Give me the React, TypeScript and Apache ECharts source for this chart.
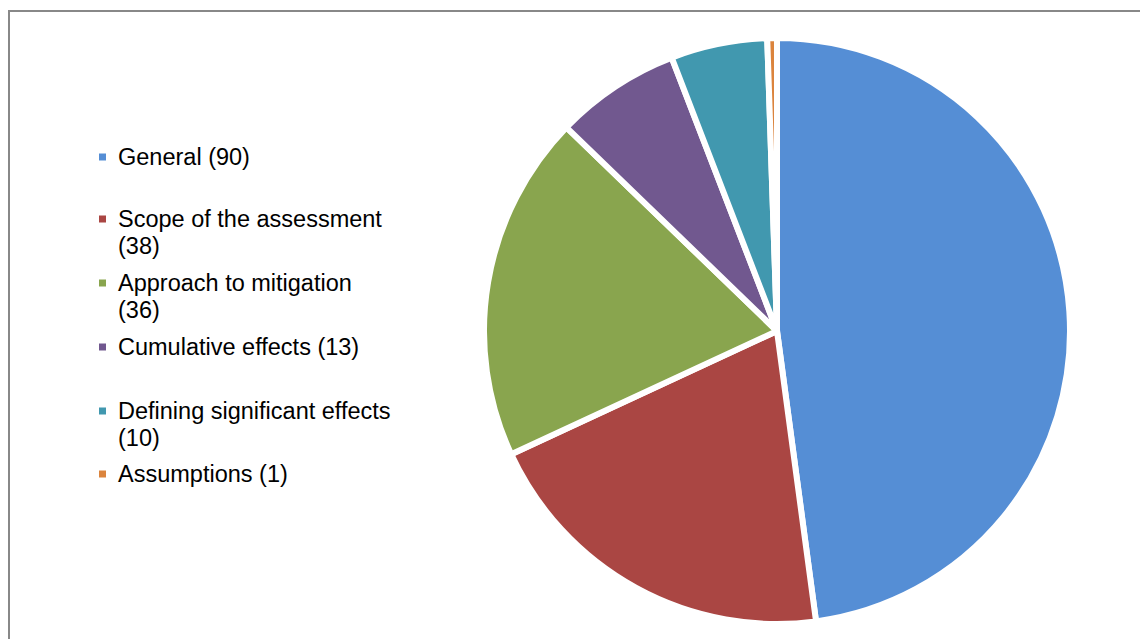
import React, { useEffect, useRef } from "react";
import * as echarts from "echarts";

const categories = [
  "General",
  "Scope of the assessment",
  "Approach to mitigation",
  "Cumulative effects",
  "Defining significant effects",
  "Assumptions",
];
const values = [90, 38, 36, 13, 10, 1];
const legendLabels = [
  "General (90)",
  "Scope of the assessment\n(38)",
  "Approach to mitigation\n(36)",
  "Cumulative effects (13)",
  "Defining significant effects\n(10)",
  "Assumptions (1)",
];
const colors = ["#558ed5", "#aa4643", "#89a54e", "#71588f", "#4198af", "#db843d"];
const legendCenters = [157, 219, 283, 347, 411, 474];

export default function App() {
  const ref = useRef<HTMLDivElement>(null);
  useEffect(() => {
    if (!ref.current) return;
    const chart = echarts.init(ref.current, null, { renderer: "svg" });
    const legends = categories.map((name, i) => {
      const twoLine = legendLabels[i].indexOf("\n") >= 0;
      return {
        data: [name],
        orient: "vertical",
        left: 99,
        top: legendCenters[i] - 13.5,
        padding: 0,
        itemWidth: 7,
        itemHeight: twoLine ? 34 : 7,
        icon: twoLine ? "path://M0,0L7,0L7,7L0,7Z M0,34L7,34" : "rect",
        itemStyle: { borderWidth: 0 },
        selectedMode: false,
        formatter: () => legendLabels[i],
        textStyle: {
          fontFamily: "Liberation Sans",
          fontSize: 23.5,
          lineHeight: 27,
          color: "#000",
          padding: [0, 0, 0, 7],
        },
      };
    });
    chart.setOption({
      animation: false,
      color: colors,
      legend: legends,
      graphic: [
        {
          type: "rect",
          shape: { x: 9, y: 11, width: 1300, height: 800 },
          style: { fill: "none", stroke: "#888888", lineWidth: 2 },
          silent: true,
        },
      ],
      series: [
        {
          type: "pie",
          center: [777, 331],
          radius: 293,
          startAngle: 90,
          clockwise: true,
          label: { show: false },
          labelLine: { show: false },
          itemStyle: { borderColor: "#ffffff", borderWidth: 6 },
          emphasis: { disabled: true },
          data: categories.map((name, i) => ({ name, value: values[i] })),
        },
      ],
    });
    return () => chart.dispose();
  }, []);
  return (
    <div
      ref={ref}
      style={{ position: "absolute", left: 0, top: 0, width: 1140, height: 639, background: "#fff" }}
    />
  );
}
